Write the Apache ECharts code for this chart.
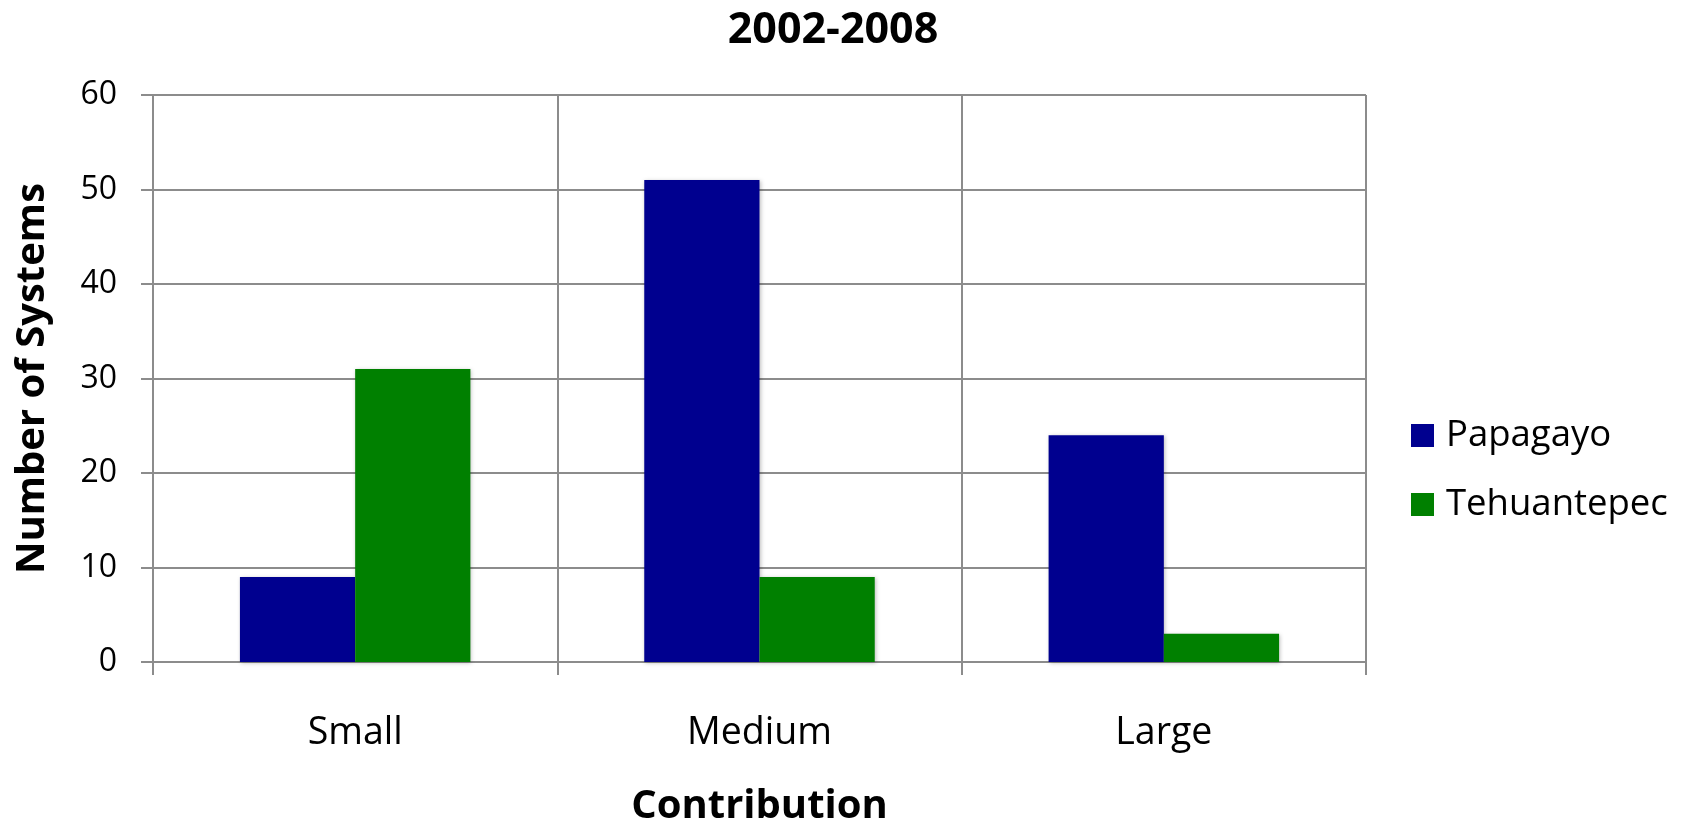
<!DOCTYPE html>
<html>
<head>
<meta charset="utf-8">
<script src="https://cdn.jsdelivr.net/npm/echarts@6/dist/echarts.min.js"></script>
<style>
  html, body { margin: 0; padding: 0; background: #ffffff; overflow: hidden; }
  #chart { width: 1687px; height: 832px; }
</style>
</head>
<body>
<div id="chart"></div>
<script>
const categories = ['Small', 'Medium', 'Large'];
const papagayo = [9, 51, 24];
const tehuantepec = [31, 9, 3];
const seriesNames = ['Papagayo', 'Tehuantepec'];
const titleText = '2002-2008';
const xName = 'Contribution';
const yName = 'Number of Systems';

const FONT = '"Open Sans", "Noto Sans", sans-serif';
const gridColor = '#8c8c8c';

const chart = echarts.init(document.getElementById('chart'), null, { renderer: 'canvas' });
chart.setOption({
  backgroundColor: '#ffffff',
  animation: false,
  title: {
    text: titleText,
    left: 828,
    textAlign: 'center',
    top: 4,
    textStyle: { fontFamily: FONT, fontSize: 43, fontWeight: 'bold', color: '#000' }
  },
  legend: {
    orient: 'vertical',
    left: 1406,
    top: 412,
    itemWidth: 23,
    itemHeight: 23,
    itemGap: 32,
    icon: 'rect',
    data: seriesNames,
    textStyle: { fontFamily: FONT, fontSize: 36.5, lineHeight: 36, color: '#000', padding: [0, 0, 0, 7] }
  },
  grid: { left: 153, width: 1213, top: 95, height: 576, containLabel: false },
  xAxis: {
    type: 'category',
    data: categories,
    name: xName,
    nameLocation: 'middle',
    nameGap: 125,
    nameTextStyle: { fontFamily: FONT, fontSize: 40, fontWeight: 'bold', color: '#000' },
    axisLine: { show: true, lineStyle: { color: gridColor, width: 2 } },
    axisTick: { show: true, length: 13, lineStyle: { color: gridColor, width: 2 } },
    axisLabel: { margin: 52, fontFamily: FONT, fontSize: 37.5, color: '#000' },
    splitLine: { show: true, lineStyle: { color: gridColor, width: 2 } }
  },
  yAxis: {
    type: 'value',
    min: 0,
    max: 60,
    interval: 10,
    name: yName,
    nameLocation: 'middle',
    nameGap: 100,
    nameRotate: 90,
    nameTextStyle: { fontFamily: FONT, fontSize: 40, fontWeight: 'bold', color: '#000' },
    axisLine: { show: true, lineStyle: { color: gridColor, width: 2 } },
    axisTick: { show: true, length: 12, lineStyle: { color: gridColor, width: 2 } },
    axisLabel: { margin: 36, fontFamily: FONT, fontSize: 32, color: '#000' },
    splitLine: { show: true, lineStyle: { color: gridColor, width: 2 } }
  },
  series: [
    {
      name: seriesNames[0],
      type: 'bar',
      data: papagayo,
      barGap: '0%',
      barCategoryGap: '43%',
      itemStyle: { color: '#00008f', shadowColor: 'rgba(0,0,0,0.25)', shadowBlur: 4, shadowOffsetX: 1, shadowOffsetY: 1 }
    },
    {
      name: seriesNames[1],
      type: 'bar',
      data: tehuantepec,
      barGap: '0%',
      barCategoryGap: '43%',
      itemStyle: { color: '#008000', shadowColor: 'rgba(0,0,0,0.25)', shadowBlur: 4, shadowOffsetX: 1, shadowOffsetY: 1 }
    }
  ]
});
</script>
</body>
</html>
